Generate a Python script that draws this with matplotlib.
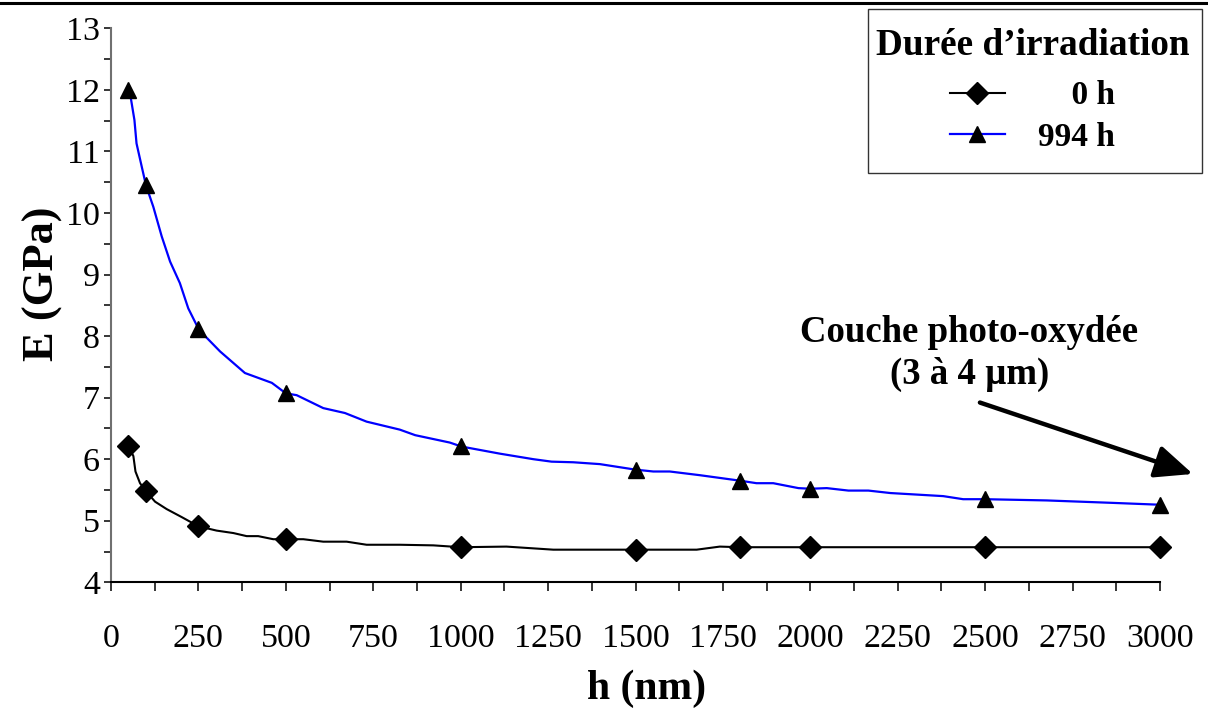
import matplotlib
matplotlib.use("Agg")
import matplotlib.pyplot as plt
from matplotlib.lines import Line2D
from matplotlib.patches import Rectangle
from matplotlib.ticker import MultipleLocator

plt.rcParams['font.family'] = ['Liberation Serif', 'DejaVu Serif']

# Marker points
h_markers = [50, 100, 250, 500, 1000, 1500, 1800, 2000, 2500, 3000]
E_0h = [6.22, 5.48, 4.91, 4.70, 4.57, 4.53, 4.57, 4.57, 4.57, 4.57]
E_994h = [12.0, 10.45, 8.12, 7.07, 6.21, 5.83, 5.65, 5.52, 5.35, 5.26]

# Continuous curves
h_curve_0h = [50, 64, 70, 83, 100, 126, 159, 202, 250, 302, 350, 388, 421, 464, 500,
              550, 607, 674, 731, 826, 922, 1000, 1131, 1265, 1500, 1675, 1741, 1800,
              2000, 2500, 3000]
E_curve_0h = [6.22, 6.05, 5.80, 5.61, 5.48, 5.31, 5.19, 5.06, 4.91, 4.84, 4.80, 4.75,
              4.75, 4.70, 4.70, 4.70, 4.66, 4.66, 4.61, 4.61, 4.60, 4.57, 4.58, 4.53,
              4.53, 4.53, 4.58, 4.57, 4.57, 4.57, 4.57]

h_curve_994h = [50, 56, 67, 73, 88, 100, 121, 145, 169, 197, 221, 250, 269, 312, 383,
                460, 500, 531, 607, 669, 731, 826, 870, 969, 1000, 1017, 1112, 1208,
                1260, 1322, 1398, 1500, 1551, 1598, 1684, 1800, 1846, 1894, 1966, 2000,
                2047, 2109, 2166, 2229, 2380, 2437, 2500, 2676, 2866, 3000]
E_curve_994h = [12.0, 11.89, 11.51, 11.13, 10.75, 10.45, 10.10, 9.62, 9.21, 8.86, 8.45,
                8.12, 8.0, 7.75, 7.40, 7.24, 7.07, 7.04, 6.83, 6.75, 6.61, 6.48, 6.39,
                6.27, 6.21, 6.19, 6.09, 6.00, 5.96, 5.95, 5.92, 5.83, 5.80, 5.80, 5.74,
                5.65, 5.61, 5.61, 5.53, 5.52, 5.53, 5.49, 5.49, 5.45, 5.40, 5.35, 5.35,
                5.33, 5.29, 5.26]

legend_title = "Durée d\u2019irradiation"
series_labels = ["\u2007\u20070 h", "994 h"]
x_label = "h (nm)"
y_label = "E (GPa)"
annot_text = "Couche photo-oxydée\n(3 à 4 µm)"

W, H = 1208, 709
fig = plt.figure(figsize=(W / 100, H / 100), dpi=100)
ax = fig.add_axes([111 / W, 1 - 582.3 / H, (1160 - 111) / W, (582.3 - 28.3) / H])

l0, = ax.plot(h_curve_0h, E_curve_0h, color='black', lw=1.5, zorder=3)
m0, = ax.plot(h_markers, E_0h, linestyle='none', marker='D', ms=11, color='black',
              zorder=4, clip_on=False)
l1, = ax.plot(h_curve_994h, E_curve_994h, color='#0000ff', lw=1.6, zorder=3)
m1, = ax.plot(h_markers, E_994h, linestyle='none', marker='^', ms=12, color='black',
              zorder=4, clip_on=False)

ax.set_xlim(0, 3000)
ax.set_ylim(4, 13)
ax.xaxis.set_major_locator(MultipleLocator(250))
ax.xaxis.set_minor_locator(MultipleLocator(125))
ax.yaxis.set_major_locator(MultipleLocator(1))
ax.yaxis.set_minor_locator(MultipleLocator(0.5))

for s in ('top', 'right'):
    ax.spines[s].set_visible(False)
ax.spines['bottom'].set_linewidth(1.5)
ax.spines['left'].set_linewidth(1.5)
ax.spines['left'].set_color('#707070')

ax.tick_params(axis='x', which='both', direction='out', length=6.5, width=1.1,
               labelsize=24.5, pad=23.5)
ax.tick_params(axis='y', which='both', direction='out', length=5, width=1.1,
               labelsize=24.5, pad=3)

ax.set_xlabel(x_label, fontsize=30, fontweight='bold')
ax.set_ylabel(y_label, fontsize=32, fontweight='bold')
ax.xaxis.set_label_coords(0.511, -0.1566)
ax.yaxis.set_label_coords(-0.046, 0.538)

# annotation
ax.text(2455, 7.72, annot_text, ha='center', va='center', fontsize=26.5,
        fontweight='bold', linespacing=1.25)
ax.annotate('', xy=(3094, 5.76), xytext=(2485, 6.92), annotation_clip=False,
            arrowprops=dict(arrowstyle='-|>,head_length=1.15,head_width=0.5',
                            mutation_scale=20, lw=3.2, color='black',
                            shrinkA=0, shrinkB=0))

leg = ax.legend([(l0, m0), (l1, m1)], series_labels, title=legend_title,
                loc='upper center', bbox_to_anchor=(1032.5 / W, 1 - 13 / H),
                bbox_transform=fig.transFigure, borderaxespad=0,
                prop={'size': 24, 'weight': 'bold'},
                title_fontproperties={'size': 26.8, 'weight': 'bold'},
                frameon=False,
                handlelength=1.65, handletextpad=1.0, labelspacing=0.31,
                borderpad=0.45, alignment='center')
leg._legend_box.sep = 12.5

# legend frame
fig.add_artist(Rectangle((868 / W, 1 - 173 / H), (1202 - 868) / W, (173 - 9) / H,
                         transform=fig.transFigure, fill=False, edgecolor='#333333',
                         linewidth=1.0))

# top rule
fig.add_artist(Line2D([0, 1], [1 - 2.5 / H, 1 - 2.5 / H], transform=fig.transFigure,
                      color='black', lw=2.2))

fig.savefig('out.png', dpi=100)
